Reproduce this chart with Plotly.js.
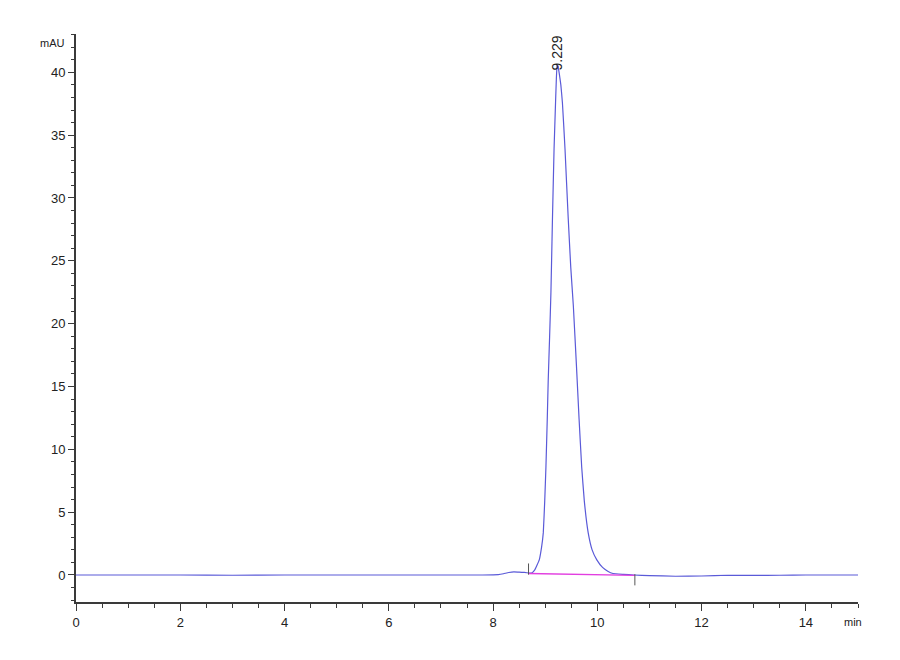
<!DOCTYPE html>
<html>
<head>
<meta charset="utf-8">
<script src="https://cdn.plot.ly/plotly-3.0.1.min.js"></script>
<style>
  html, body { margin: 0; padding: 0; background: #fff; }
  #chart { width: 900px; height: 660px; }
</style>
</head>
<body>
<div id="chart"></div>
<script>
// Chromatogram trace (time in min, signal in mAU)
const timeMin = [
  0, 1, 2, 3, 4, 5, 6, 7, 7.8, 8.1, 8.2, 8.3, 8.4, 8.5, 8.6, 8.7, 8.74,
  8.8, 8.886, 8.93, 8.963, 8.99, 9.014, 9.04, 9.058, 9.085, 9.11, 9.14, 9.17, 9.2, 9.215, 9.229,
  9.245, 9.27, 9.3, 9.33, 9.38, 9.44, 9.49, 9.54, 9.6, 9.65, 9.7, 9.75, 9.825, 9.9, 9.99,
  10.1, 10.2, 10.3, 10.5, 10.7, 11.0, 11.5, 12.0, 12.5, 13.0, 13.5, 14.0, 15.0
];
const signalMAU = [
  0.0, 0.0, 0.0, -0.02, 0.0, 0.0, 0.0, 0.0, 0.0, 0.03, 0.1, 0.2, 0.25, 0.22, 0.2, 0.15, 0.15,
  0.4, 1.2, 2.2, 3.35, 5.8, 8.6, 12.5, 15.5, 19.0, 22.5, 28.5, 33.9, 37.8, 39.6, 40.6,
  40.5, 39.9, 39.0, 37.6, 33.9, 28.5, 24.5, 21.4, 16.6, 12.4, 8.6, 5.9, 3.35, 2.0, 1.2,
  0.6, 0.3, 0.12, 0.05, 0.0, -0.05, -0.1, -0.08, -0.02, -0.03, -0.02, 0.0, 0.0
];

// integration baseline
const baseTime = [8.68, 10.72];
const baseMAU = [0.12, -0.03];

const peakTime = 9.229;
const peakHeight = 40.6;
const peakLabel = '9.229';

const xTicks = [0, 2, 4, 6, 8, 10, 12, 14];
const yTicks = [0, 5, 10, 15, 20, 25, 30, 35, 40];

const axisColor = '#3a3a3a';
const fontFam = 'Liberation Sans Narrow, Liberation Sans, Arial, sans-serif';

const traces = [
  {
    x: timeMin, y: signalMAU, type: 'scatter', mode: 'lines',
    line: { color: '#5a5ad8', width: 1.2, shape: 'spline', smoothing: 0.3 },
    hoverinfo: 'x+y'
  },
  {
    x: baseTime, y: baseMAU, type: 'scatter', mode: 'lines',
    line: { color: '#e23ee0', width: 1.4 },
    hoverinfo: 'skip'
  },
  {
    x: [baseTime[0]], y: [baseMAU[0] + 0.35], type: 'scatter', mode: 'markers',
    marker: { symbol: 'line-ns-open', size: 8, color: '#555', line: { width: 1, color: '#555' } },
    hoverinfo: 'skip'
  },
  {
    x: [baseTime[1]], y: [baseMAU[1] - 0.35], type: 'scatter', mode: 'markers',
    marker: { symbol: 'line-ns-open', size: 8, color: '#555', line: { width: 1, color: '#555' } },
    hoverinfo: 'skip'
  }
];

const layout = {
  width: 900, height: 660,
  paper_bgcolor: '#fff', plot_bgcolor: '#fff',
  margin: { l: 76, r: 42, t: 34, b: 58 },
  showlegend: false,
  font: { family: fontFam, size: 12, color: '#222' },
  xaxis: {
    range: [0, 15], tickvals: xTicks, ticktext: xTicks.map(String),
    showgrid: false, zeroline: false,
    showline: true, linecolor: axisColor, linewidth: 2,
    ticks: 'outside', ticklen: 7, tickwidth: 1, tickcolor: axisColor,
    minor: { dtick: 0.5, ticks: 'outside', ticklen: 4, tickcolor: axisColor, tickwidth: 1, showgrid: false },
    tickfont: { family: fontFam, size: 13, color: '#222' }
  },
  yaxis: {
    range: [-2.15, 43.05], tickvals: yTicks, ticktext: yTicks.map(String),
    showgrid: false, zeroline: false,
    showline: true, linecolor: axisColor, linewidth: 2,
    ticks: 'outside', ticklen: 6, tickwidth: 1, tickcolor: axisColor,
    minor: { dtick: 1, ticks: 'outside', ticklen: 3, tickcolor: axisColor, tickwidth: 1, showgrid: false },
    tickfont: { family: fontFam, size: 13, color: '#222' }
  },
  annotations: [
    {
      x: peakTime, y: peakHeight, xref: 'x', yref: 'y', text: peakLabel,
      showarrow: false, textangle: -90, xanchor: 'center', yanchor: 'bottom', yshift: -8,
      font: { family: fontFam, size: 14, color: '#222' }
    },
    {
      x: 0, y: 1, xref: 'paper', yref: 'paper', text: 'mAU', showarrow: false,
      xanchor: 'right', yanchor: 'middle', xshift: -9, yshift: -9,
      font: { family: fontFam, size: 11, color: '#222' }
    },
    {
      x: 1, y: 0, xref: 'paper', yref: 'paper', text: 'min', showarrow: false,
      xanchor: 'left', yanchor: 'middle', xshift: -16, yshift: -20,
      font: { family: fontFam, size: 11, color: '#222' }
    }
  ]
};

Plotly.newPlot('chart', traces, layout, { displayModeBar: false, staticPlot: true });
</script>
</body>
</html>
